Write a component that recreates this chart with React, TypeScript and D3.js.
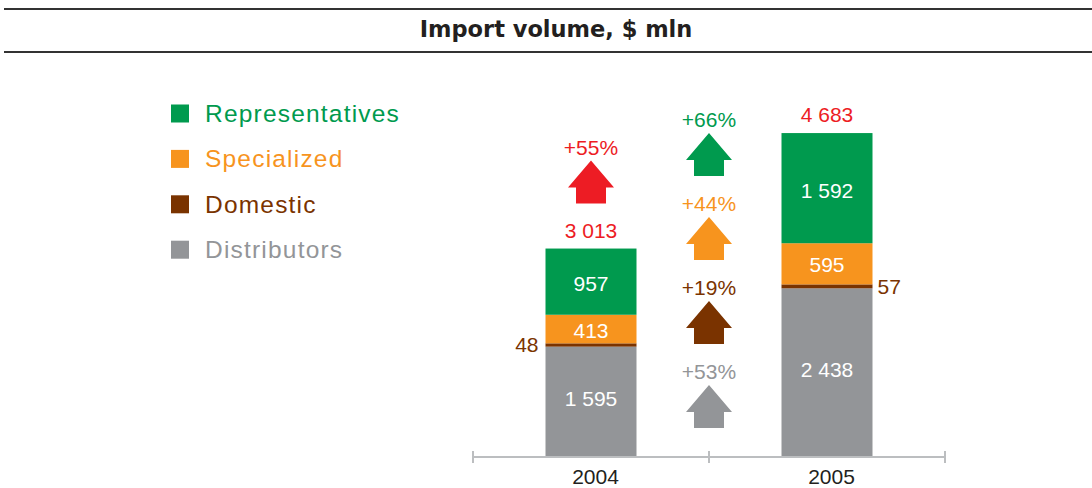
import React from "react";
import * as d3 from "d3";

// data
const years = ["2004", "2005"];
const distributors = [1595, 2438];
const domestic = [48, 57];
const specialized = [413, 595];
const representatives = [957, 1592];
const totals = [3013, 4683];
const totalGrowth = "+55%";
const legendNames = ["Representatives", "Specialized", "Domestic", "Distributors"];
const growthLabels = ["+66%", "+44%", "+19%", "+53%"];

const colors: Record<string, string> = {
  Representatives: "#009a4e",
  Specialized: "#f7941e",
  Domestic: "#7a3300",
  Distributors: "#939598",
};
const RED = "#ed1c24";
const FONT = "'Liberation Sans', Arial, Helvetica, sans-serif";

const W = 1092, H = 488;

const arrowPath = (cx: number, top: number) => {
  const hw = 23, hh = 27, sw = 15, h = 43;
  return `M${cx},${top}L${cx + hw},${top + hh}L${cx + sw},${top + hh}L${cx + sw},${top + h}` +
    `L${cx - sw},${top + h}L${cx - sw},${top + hh}L${cx - hw},${top + hh}Z`;
};

const fmt = (v: number) => d3.format(",")(v).replace(",", " ");

export default function App() {
  const rows = years.map((year, i) => ({
    year,
    Distributors: distributors[i],
    Domestic: domestic[i],
    Specialized: specialized[i],
    Representatives: representatives[i],
  }));
  const keys = ["Distributors", "Domestic", "Specialized", "Representatives"];
  const series = d3.stack<any>().keys(keys)(rows);

  const x = d3.scaleBand().domain(years).range([473, 945]);
  const y = d3.scaleLinear().domain([0, d3.max(totals)!]).range([457, 133]);
  const barW = 91;
  const bx = (yr: string) => x(yr)! + x.bandwidth() / 2 - barW / 2;
  const cx = (yr: string) => x(yr)! + x.bandwidth() / 2;
  const midX = x(years[1])!;
  // small nudges of the inner labels, as set in the original
  const labelShift: Record<string, number> = { Distributors: -3, Specialized: 1, Representatives: 2 };

  return (
    <svg width={W} height={H} style={{ position: "absolute", left: 0, top: 0 }} fontFamily={FONT}>
      {/* title band */}
      <line x1={4} x2={W} y1={9} y2={9} stroke="#333" strokeWidth={2} />
      <line x1={4} x2={W} y1={52} y2={52} stroke="#333" strokeWidth={2} />
      <text x={556} y={37} textAnchor="middle" fontSize={22.5} fontWeight="bold"
        fontFamily="'DejaVu Sans', sans-serif" fill="#231f20">
        Import volume, $ mln
      </text>

      {/* legend */}
      {legendNames.map((name, i) => {
        const cy = 113.5 + i * 45.4;
        return (
          <g key={name}>
            <rect x={171} y={cy - 9} width={18} height={18} fill={colors[name]} />
            <text x={205} y={cy + 8.5} fontSize={24.5} letterSpacing={1.2} fill={colors[name]}>{name}</text>
          </g>
        );
      })}

      {/* bars */}
      {series.map((s) => (
        <g key={s.key} fill={colors[s.key]}>
          {s.map((d, i) => (
            <rect key={i} x={bx(years[i])} y={y(d[1])} width={barW} height={y(d[0]) - y(d[1])} />
          ))}
        </g>
      ))}

      {/* segment labels */}
      {series.filter((s) => s.key !== "Domestic").map((s) =>
        s.map((d, i) => (
          <text key={s.key + i} x={cx(years[i])}
            y={(y(d[0]) + y(d[1])) / 2 + 7.5 + (labelShift[s.key] || 0)}
            textAnchor="middle" fontSize={21} fill="#fff">
            {fmt(d[1] - d[0])}
          </text>
        ))
      )}
      {series.filter((s) => s.key === "Domestic").map((s) =>
        s.map((d, i) => (
          <text key={"dom" + i}
            x={i === 0 ? bx(years[i]) - 7 : bx(years[i]) + barW + 5}
            y={(y(d[0]) + y(d[1])) / 2 + 7.5}
            textAnchor={i === 0 ? "end" : "start"} fontSize={21} fill={colors.Domestic}>
            {d[1] - d[0]}
          </text>
        ))
      )}

      {/* totals */}
      {totals.map((t, i) => (
        <text key={"tot" + i} x={cx(years[i])} y={y(t) - 11} textAnchor="middle" fontSize={21} fill={RED}>
          {fmt(t)}
        </text>
      ))}

      {/* total growth arrow */}
      <text x={cx(years[0])} y={y(totals[0]) - 94} textAnchor="middle" fontSize={21} fill={RED}>{totalGrowth}</text>
      <path d={arrowPath(cx(years[0]), y(totals[0]) - 88)} fill={RED} />

      {/* per-segment growth arrows */}
      {growthLabels.map((lab, i) => {
        const top = 133 + i * 84;
        const c = colors[legendNames[i]];
        return (
          <g key={lab}>
            <text x={midX} y={top - 6.5} textAnchor="middle" fontSize={21} fill={c}>{lab}</text>
            <path d={arrowPath(midX, top)} fill={c} />
          </g>
        );
      })}

      {/* axis */}
      <line x1={x.range()[0]} x2={x.range()[1]} y1={457} y2={457} stroke="#bcbec0" strokeWidth={2} />
      {[...years.map((yr) => x(yr)!), x.range()[1]].map((t, i) => (
        <line key={"tk" + i} x1={t} x2={t} y1={451} y2={463} stroke="#bcbec0" strokeWidth={2} />
      ))}
      {years.map((yr) => (
        <text key={yr} x={cx(yr) + 4.5} y={484} textAnchor="middle" fontSize={21} fill="#231f20">{yr}</text>
      ))}
    </svg>
  );
}
